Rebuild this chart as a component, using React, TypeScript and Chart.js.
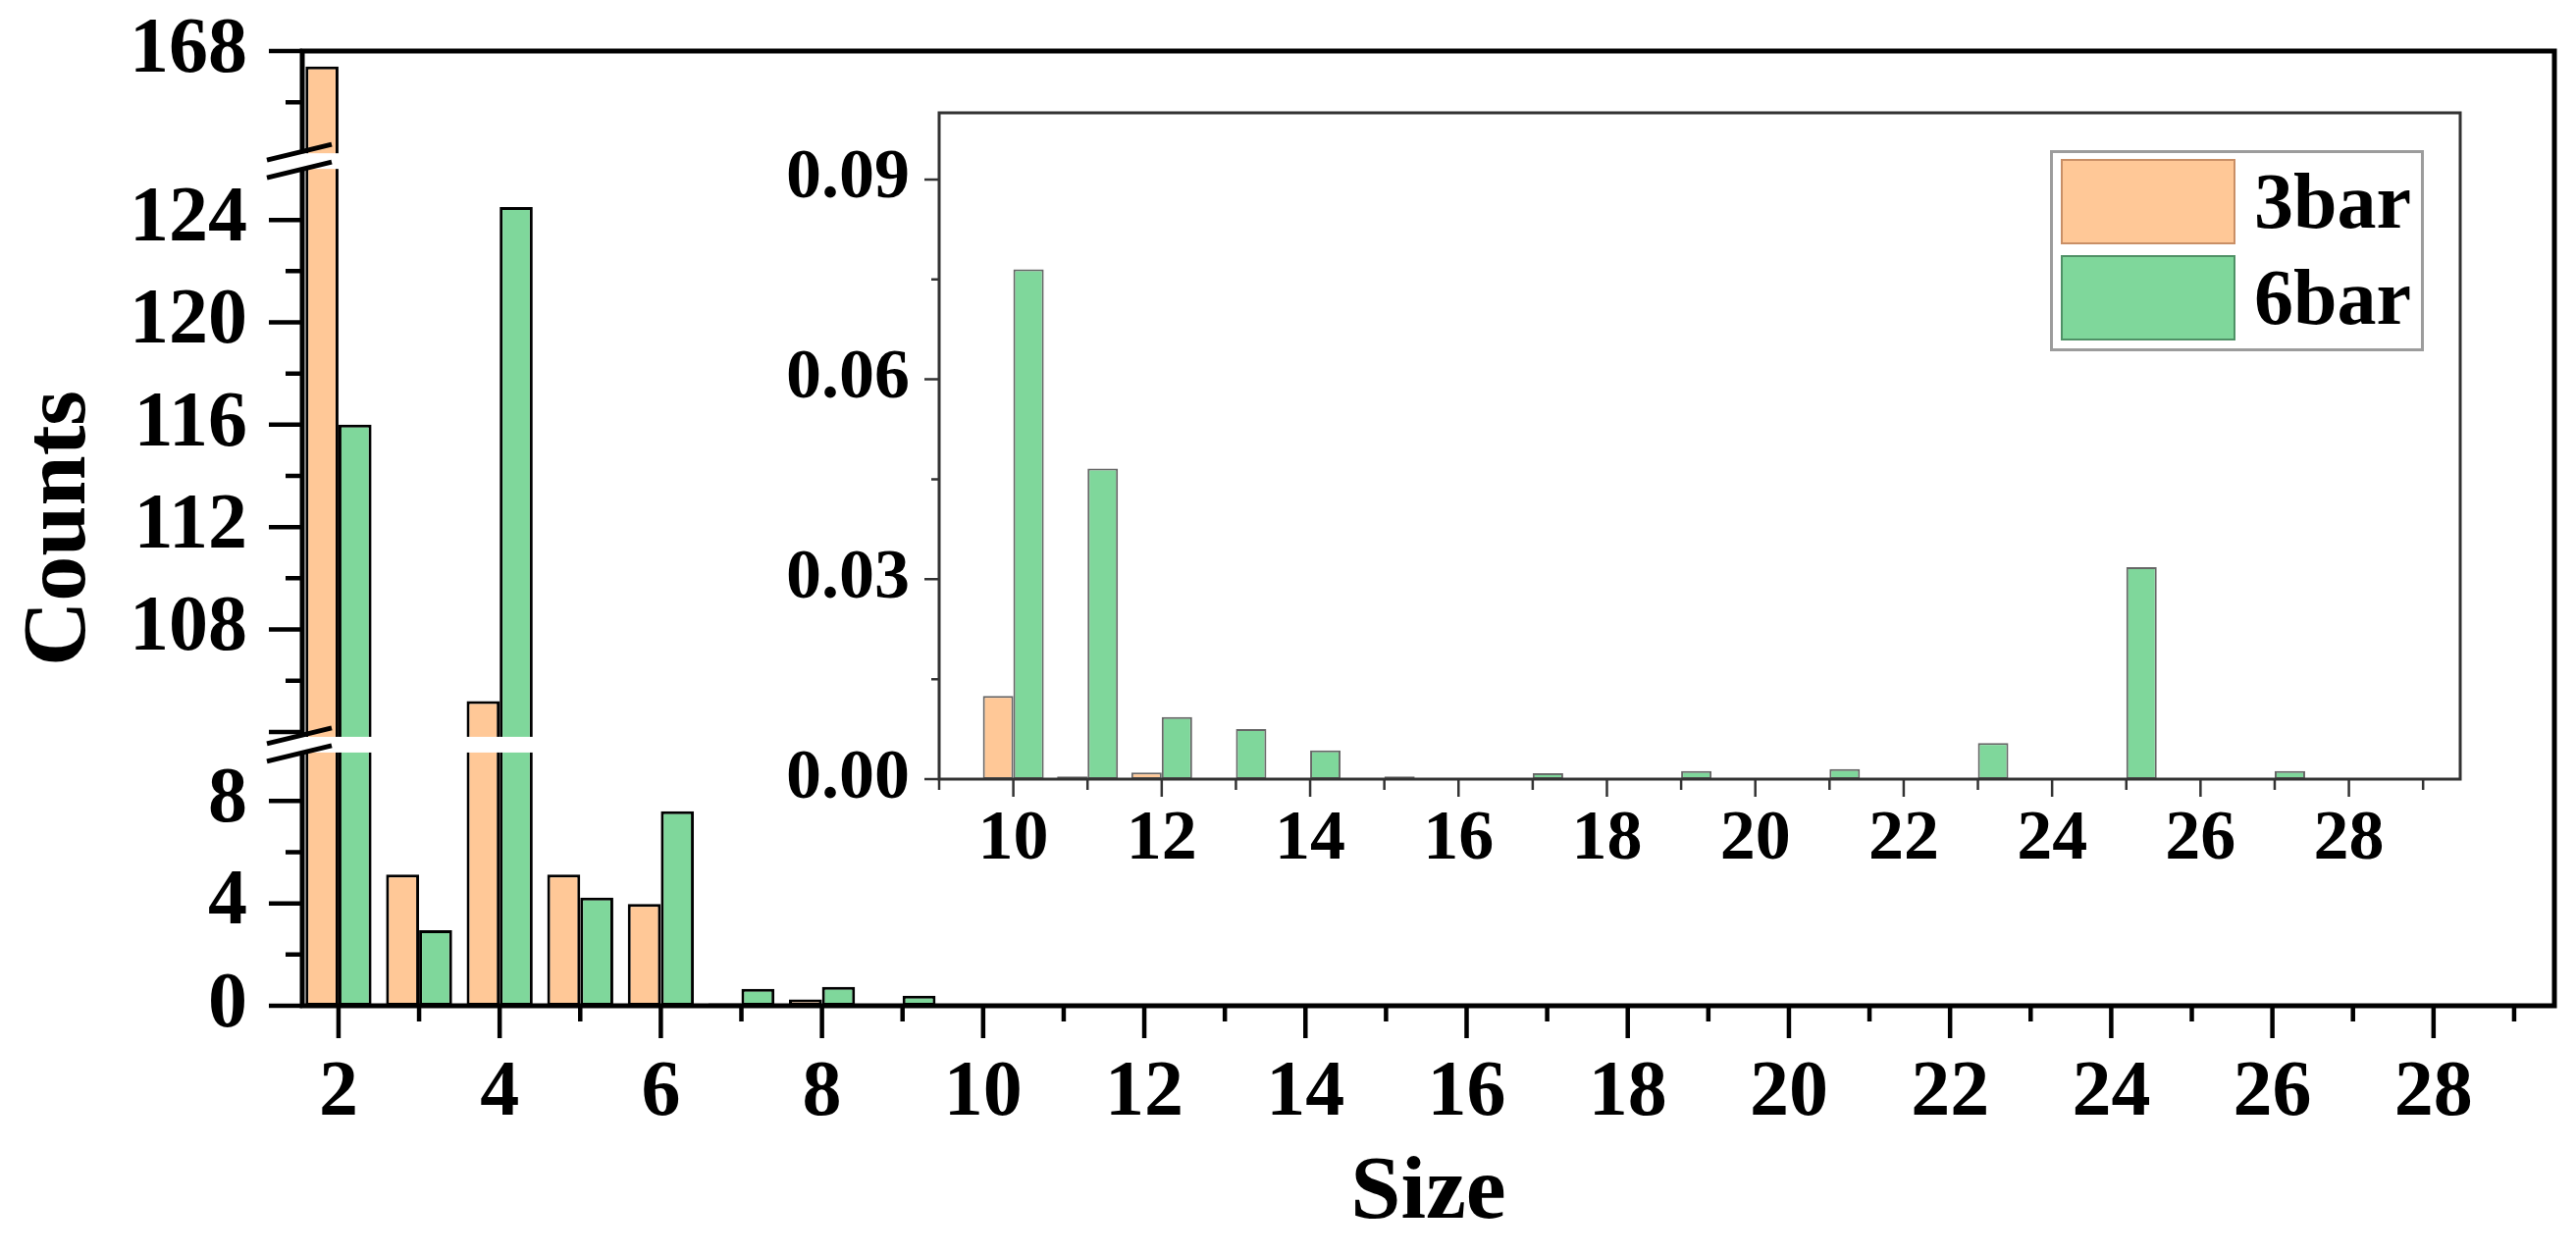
import { useEffect, useRef } from "react";
import Chart from "chart.js/auto";

const SERIF = "'Liberation Serif', 'Times New Roman', serif";

// main panel: counts per cluster size
const SIZES = [2, 3, 4, 5, 6, 7, 8, 9, 10, 11, 12, 13, 14, 15, 16, 17, 18, 19, 20, 21, 22, 23, 24, 25, 26, 27, 28];
const COUNTS_3BAR = [167.4, 5.13, 105.2, 5.13, 3.98, 0.1, 0.25, 0, 0.04, 0, 0, 0, 0, 0, 0, 0, 0, 0, 0, 0, 0, 0, 0, 0, 0, 0, 0];
const COUNTS_6BAR = [116.0, 2.95, 124.5, 4.23, 7.6, 0.66, 0.74, 0.39, 0.08, 0, 0, 0, 0, 0, 0, 0, 0, 0, 0, 0, 0, 0, 0, 0, 0, 0, 0];

// inset: sizes 10..28
const INSET_SIZES = [10, 11, 12, 13, 14, 15, 16, 17, 18, 19, 20, 21, 22, 23, 24, 25, 26, 27, 28];
const INSET_3BAR = [0.0125, 0.0004, 0.001, 0, 0, 0, 0, 0, 0, 0, 0, 0, 0, 0, 0, 0, 0, 0, 0];
const INSET_6BAR = [0.0765, 0.0466, 0.0093, 0.0075, 0.0043, 0.0004, 0, 0.0009, 0, 0.0012, 0, 0.0015, 0, 0.0054, 0, 0.0318, 0, 0.0012, 0];

// broken y axis: top to bottom
const SEGMENTS = [
  { id: "yTop", min: 163.7, max: 168 },
  { id: "yMid", min: 103.5, max: 126.3 },
  { id: "yLow", min: 0, max: 10.2 },
];

const LABELS = ["3bar", "6bar"];
const FILLS = ["#FFC897", "#7FD79B"];
const SWATCH_BORDERS = ["#c98f66", "#4f9166"];

const tickFont = (size: number) => ({ family: SERIF, size, weight: "bold" as const });

// part of each bar that falls inside one axis segment
function clip(values: number[], lo: number, hi: number) {
  return SIZES.flatMap((s, i) => {
    const v = values[i];
    if (!v || v <= lo) return [];
    return [{ x: s, y: [lo, Math.min(v, hi)] }];
  });
}

function points(sizes: number[], values: number[]) {
  return sizes.flatMap((s, i) => (values[i] ? [{ x: s, y: values[i] }] : []));
}

const isMult = (v: number, step: number) => Math.abs(v / step - Math.round(v / step)) < 1e-6;

const mainDecor = {
  id: "mainDecor",
  afterDatasetsDraw(chart: any) {
    const { ctx, chartArea: a, scales } = chart;
    const cuts = [scales.yLow.top, scales.yMid.top];
    ctx.save();
    ctx.strokeStyle = "#000";
    ctx.lineWidth = 5;
    ctx.strokeRect(a.left, a.top, a.right - a.left, a.bottom - a.top);

    ctx.lineWidth = 4.5;
    ctx.beginPath();
    for (const seg of SEGMENTS) {
      const s = scales[seg.id];
      for (const t of s.ticks) {
        const y = s.getPixelForValue(t.value);
        if (cuts.some((c: number) => Math.abs(c - y) < 12)) continue;
        const len = t.value % 4 === 0 ? 34 : 17;
        ctx.moveTo(a.left - len, y);
        ctx.lineTo(a.left, y);
      }
    }
    for (const t of scales.x.ticks) {
      const x = scales.x.getPixelForValue(t.value);
      const len = t.value % 2 === 0 ? 33 : 16;
      ctx.moveTo(x, a.bottom);
      ctx.lineTo(x, a.bottom + len);
    }
    ctx.stroke();

    // axis breaks
    for (const c of cuts) {
      ctx.fillStyle = "#fff";
      ctx.fillRect(a.left - 40, c - 8, a.right - a.left + 37, 16);
      ctx.lineWidth = 5;
      ctx.beginPath();
      for (const off of [-9, 9]) {
        ctx.moveTo(a.left - 36, c + off + 8);
        ctx.lineTo(a.left + 30, c + off - 8);
      }
      ctx.stroke();
    }

    ctx.fillStyle = "#000";
    ctx.font = `bold 92px ${SERIF}`;
    ctx.textAlign = "center";
    ctx.textBaseline = "middle";
    ctx.translate(62, (a.top + a.bottom) / 2);
    ctx.rotate(-Math.PI / 2);
    ctx.fillText("Counts", 0, 0);
    ctx.restore();
  },
};

const insetDecor = {
  id: "insetDecor",
  afterDatasetsDraw(chart: any) {
    const { ctx, chartArea: a, scales } = chart;
    ctx.save();
    ctx.strokeStyle = "#333";
    ctx.lineWidth = 3;
    ctx.strokeRect(a.left, a.top, a.right - a.left, a.bottom - a.top);
    ctx.lineWidth = 2.5;
    ctx.beginPath();
    for (const t of scales.y.ticks) {
      const y = scales.y.getPixelForValue(t.value);
      const len = isMult(t.value, 0.03) ? 15 : 8;
      ctx.moveTo(a.left - len, y);
      ctx.lineTo(a.left, y);
    }
    for (const t of scales.x.ticks) {
      const x = scales.x.getPixelForValue(t.value);
      const len = t.value % 2 === 0 ? 18 : 11;
      ctx.moveTo(x, a.bottom);
      ctx.lineTo(x, a.bottom + len);
    }
    ctx.stroke();
    ctx.restore();
  },
};

const noGrid = { display: false, drawTicks: false };

export default function App() {
  const mainRef = useRef<HTMLCanvasElement>(null);
  const insetRef = useRef<HTMLCanvasElement>(null);

  useEffect(() => {
    if (!mainRef.current || !insetRef.current) return;

    const series = [COUNTS_3BAR, COUNTS_6BAR];
    const datasets: any[] = [];
    SEGMENTS.forEach((seg) => {
      series.forEach((vals, k) => {
        datasets.push({
          label: LABELS[k],
          data: clip(vals, seg.min, seg.max),
          yAxisID: seg.id,
          stack: "s" + k,
          backgroundColor: FILLS[k],
          borderColor: "#000",
          borderWidth: 3,
          borderSkipped: false,
          categoryPercentage: 0.82,
          barPercentage: 1,
        });
      });
    });

    const top = SEGMENTS[0].max;
    const bottom = SEGMENTS[SEGMENTS.length - 1].min;

    const scales: any = {
      x: {
        type: "linear",
        min: 1.55,
        max: 29.5,
        offset: false,
        grid: noGrid,
        border: { display: false },
        ticks: {
          stepSize: 1,
          autoSkip: false,
          includeBounds: false,
          maxRotation: 0,
          padding: 42,
          color: "#000",
          font: tickFont(80),
          callback: (v: number) => (v % 2 === 0 ? String(v) : ""),
        },
        title: {
          display: true,
          text: "Size",
          color: "#000",
          font: tickFont(92),
          padding: { top: 0, bottom: 7 },
        },
        afterFit: (s: any) => {
          s.height = 254;
          s.paddingLeft = 0;
          s.paddingRight = 0;
        },
      },
    };
    SEGMENTS.forEach((seg, i) => {
      scales[seg.id] = {
        type: "linear",
        position: "left",
        stack: "counts",
        stackWeight: seg.max - seg.min,
        weight: SEGMENTS.length - i,
        min: seg.min,
        max: seg.max,
        stacked: false,
        grid: noGrid,
        border: { display: false },
        ticks: {
          stepSize: 2,
          autoSkip: false,
          includeBounds: false,
          padding: 56,
          color: "#000",
          font: tickFont(80),
          // no labels right next to a break
          callback: (v: number) => {
            if (v % 4 !== 0) return "";
            if (seg.min !== bottom && v - seg.min < 0.6) return "";
            if (seg.max !== top && seg.max - v < 0.6) return "";
            return String(v);
          },
        },
        afterFit: (s: any) => {
          s.width = 308;
          s.paddingTop = 0;
          s.paddingBottom = 0;
        },
      };
    });

    const main = new Chart(mainRef.current, {
      type: "bar",
      data: { datasets },
      options: {
        responsive: false,
        animation: false,
        events: [],
        layout: { padding: { left: 0, right: 22, top: 52, bottom: 0 } },
        plugins: { legend: { display: false }, tooltip: { enabled: false } },
        scales,
      },
      plugins: [mainDecor],
    } as any);

    const inset = new Chart(insetRef.current, {
      type: "bar",
      data: {
        datasets: [INSET_3BAR, INSET_6BAR].map((vals, k) => ({
          label: LABELS[k],
          data: points(INSET_SIZES, vals),
          backgroundColor: FILLS[k],
          borderColor: "rgba(0,0,0,0.6)",
          borderWidth: 2,
          borderSkipped: false,
          categoryPercentage: 0.82,
          barPercentage: 1,
        })),
      },
      options: {
        responsive: false,
        animation: false,
        events: [],
        layout: { padding: { left: 757, right: 118, top: 115, bottom: 385 } },
        plugins: { legend: { display: false }, tooltip: { enabled: false } },
        scales: {
          x: {
            type: "linear",
            min: 9,
            max: 29.5,
            offset: false,
            grid: noGrid,
            border: { display: false },
            ticks: {
              stepSize: 1,
              autoSkip: false,
              includeBounds: false,
              maxRotation: 0,
              padding: 19,
              color: "#000",
              font: tickFont(72),
              callback: (v: number) => (v % 2 === 0 ? String(v) : ""),
            },
            afterFit: (s: any) => {
              s.height = 100;
              s.paddingLeft = 0;
              s.paddingRight = 0;
            },
          },
          y: {
            type: "linear",
            min: 0,
            max: 0.1,
            grid: noGrid,
            border: { display: false },
            ticks: {
              stepSize: 0.015,
              autoSkip: false,
              includeBounds: false,
              padding: 30,
              color: "#000",
              font: tickFont(72),
              callback: (v: number) => (isMult(v, 0.03) ? v.toFixed(2) : ""),
            },
            afterFit: (s: any) => {
              s.width = 200;
              s.paddingTop = 0;
              s.paddingBottom = 0;
            },
          },
        },
      },
      plugins: [insetDecor],
    } as any);

    return () => {
      main.destroy();
      inset.destroy();
    };
  }, []);

  const canvasStyle: any = { position: "absolute", left: 0, top: 0, width: 2625, height: 1279, display: "block" };

  return (
    <div style={{ position: "absolute", left: 0, top: 0, width: 2625, height: 1279, background: "#fff", overflow: "hidden" }}>
      <canvas ref={mainRef} width={2625} height={1279} style={canvasStyle} />
      <canvas ref={insetRef} width={2625} height={1279} style={canvasStyle} />
      <div
        style={{
          position: "absolute",
          left: 2089,
          top: 153,
          width: 381,
          height: 205,
          boxSizing: "border-box",
          border: "3px solid #9c9c9c",
          background: "#fff",
        }}
      >
        {LABELS.map((label, k) => (
          <div key={label} style={{ position: "absolute", left: 8, top: 6 + k * 98, height: 87, display: "flex", alignItems: "center" }}>
            <div
              style={{
                width: 178,
                height: 87,
                boxSizing: "border-box",
                background: FILLS[k],
                border: `2px solid ${SWATCH_BORDERS[k]}`,
              }}
            />
            <span style={{ marginLeft: 19, font: `bold 80px ${SERIF}`, lineHeight: "87px", color: "#000" }}>{label}</span>
          </div>
        ))}
      </div>
    </div>
  );
}
